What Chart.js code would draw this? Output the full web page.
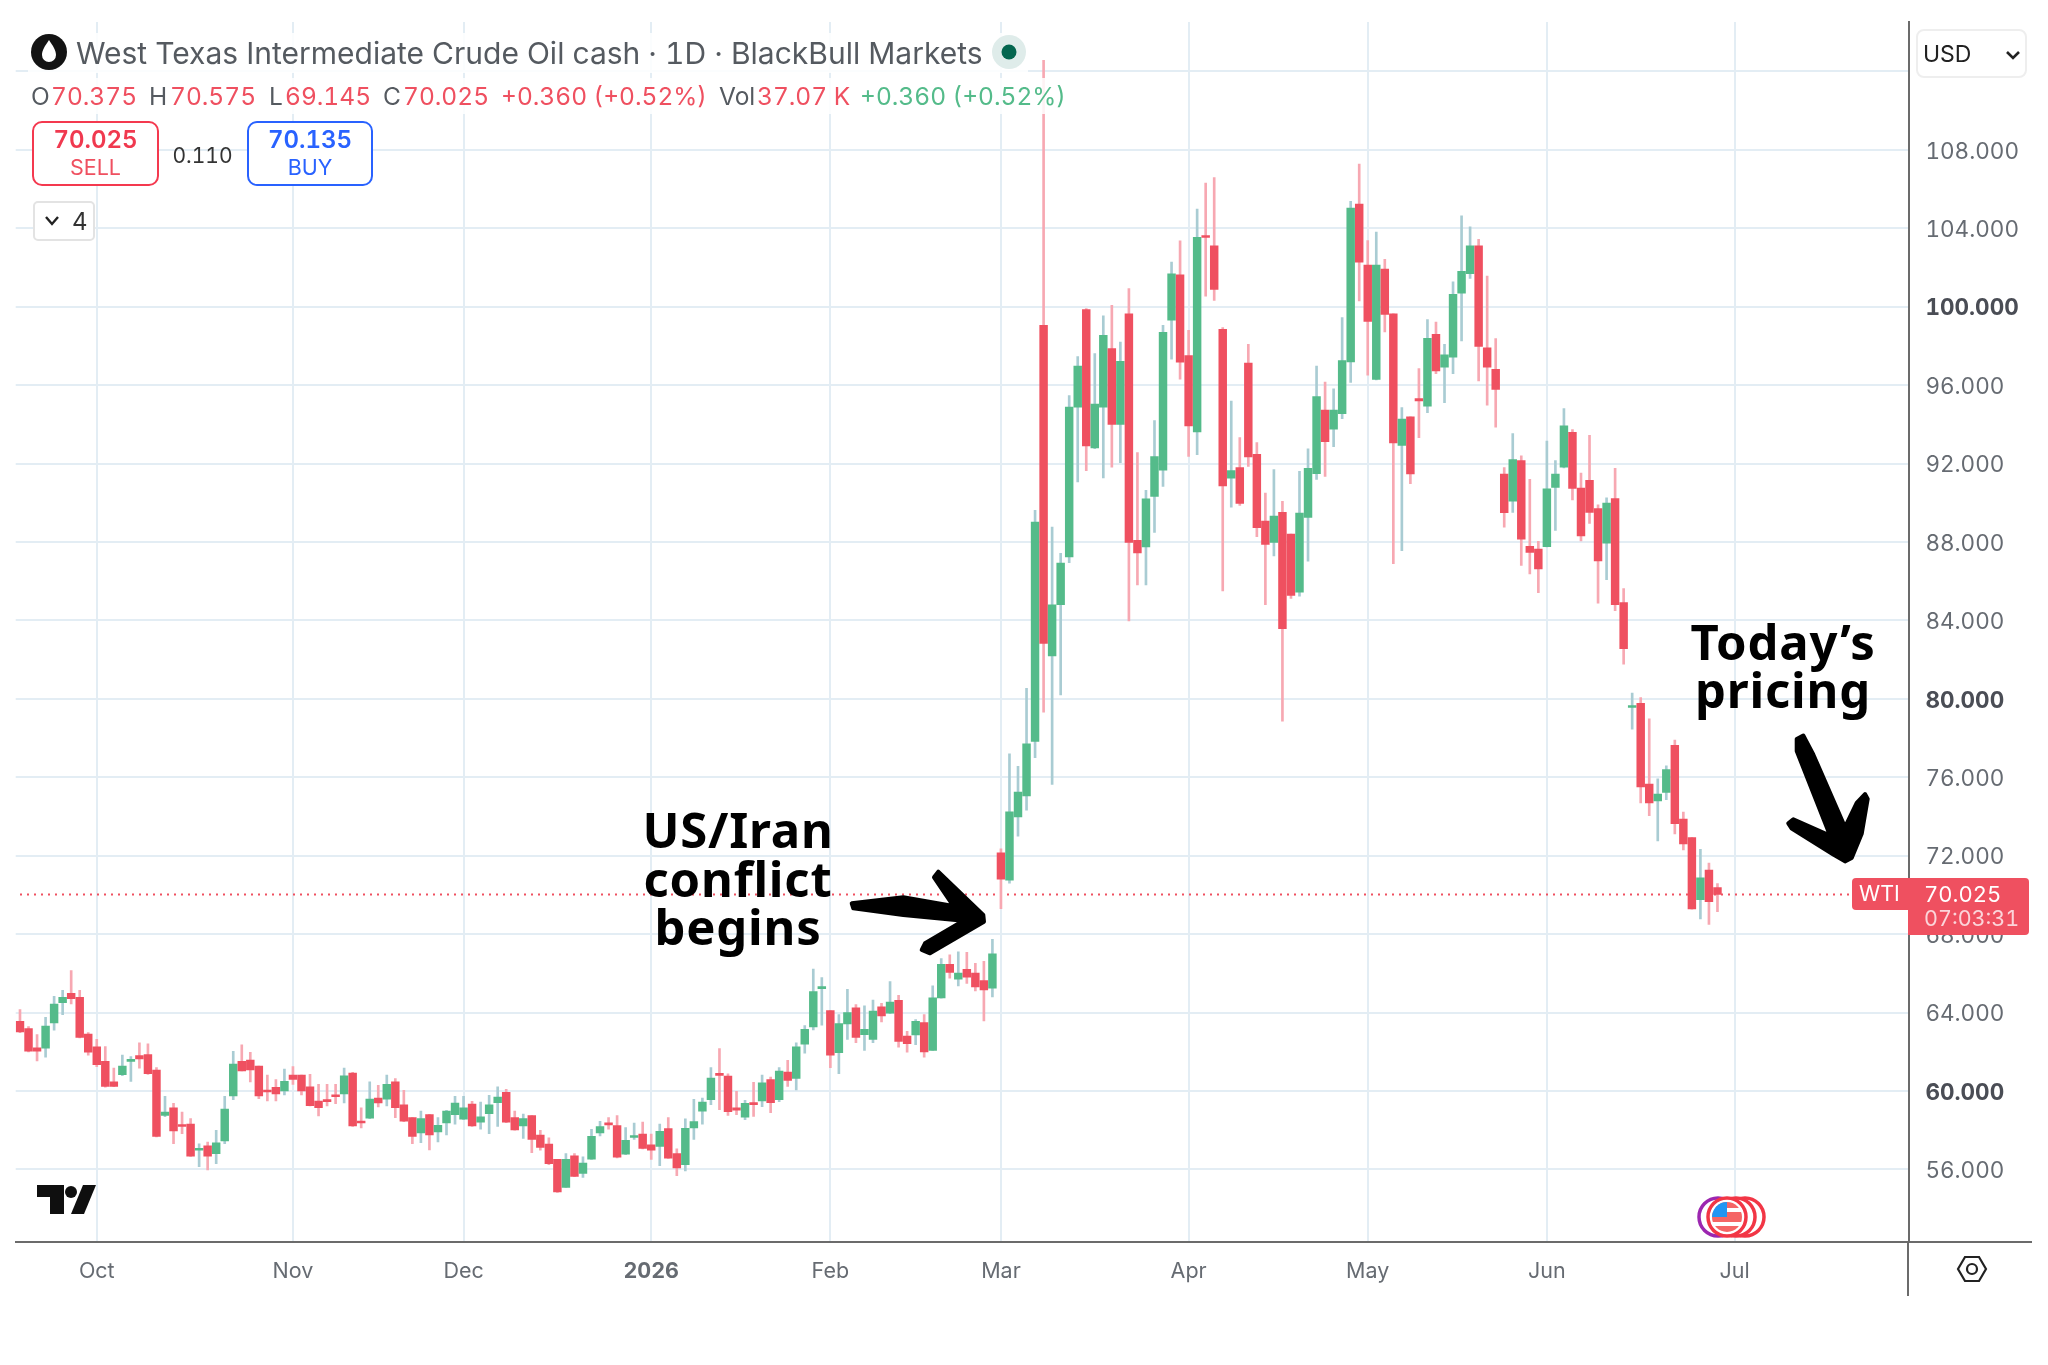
<!DOCTYPE html>
<html><head><meta charset="utf-8">
<script src="https://cdn.jsdelivr.net/npm/chart.js@4"></script>
<style>
html,body{margin:0;padding:0;background:#fff;width:2048px;height:1365px;overflow:hidden;font-family:Inter,sans-serif;font-variant-numeric:tabular-nums}
#c{position:absolute;left:0;top:0}
.t{position:absolute;white-space:nowrap;line-height:1}
.ann{position:absolute;font-family:"Noto Sans",sans-serif;font-weight:700;color:#000;text-align:center;white-space:nowrap;line-height:49px;font-size:49px;letter-spacing:.8px}
.box{position:absolute;box-sizing:border-box}
svg{position:absolute;left:0;top:0}
</style></head><body>
<canvas id="c" width="2048" height="1365"></canvas>
<svg width="2048" height="1365" viewBox="0 0 2048 1365">
  <path d="M851.7 903.3 L903.3 897.3 L953.3 906 L934 877.3 L938.3 871.7 L983.3 915 L984 921.7 L930 953.3 L921.7 950 L925 943.3 L963.3 920.7 L903.3 915 L853.3 908.3 Z" fill="#000" stroke="#000" stroke-width="4" stroke-linejoin="round"/>
  <path d="M1796.7 739 L1803.3 735.5 L1813.3 754.5 L1845 827 L1856.7 802.8 L1865 794 L1867.7 799 L1861.7 833.8 L1851.7 858 L1845 861.4 L1833.3 854.5 L1791.7 828.6 L1788.3 823.4 L1793.3 819.3 L1830 835.5 L1796.7 751 Z" fill="#000" stroke="#000" stroke-width="4" stroke-linejoin="round"/>
  <g fill="#0f0f0f"><path d="M37 1185H64V1214H50V1197H37Z"/><circle cx="71" cy="1192" r="6"/><path d="M83 1185H96L84 1214H71Z"/></g>
  <g fill="#fff" stroke-width="3.5"><circle cx="1718" cy="1217" r="19" stroke="#9c27b0"/><circle cx="1745" cy="1217" r="19" stroke="#f23645"/><circle cx="1736" cy="1217" r="19" stroke="#f23645"/><circle cx="1727" cy="1217" r="19" stroke="#f23645"/></g>
  <g><circle cx="1727" cy="1217" r="15" fill="#f56565"/><path d="M1712 1208H1742V1212H1712ZM1712 1222H1742V1226H1712Z" fill="#fff"/><path d="M1712 1217A15 15 0 0 1 1727 1202V1217Z" fill="#2196f3"/></g>
  <g fill="none" stroke="#222" stroke-width="2.2"><path d="M1965 1257H1979L1986 1269L1979 1281H1965L1958 1269Z"/><circle cx="1972" cy="1269" r="5"/></g>
</svg>
<div class="ann" style="left:638px;top:805px;width:200px">US/Iran</div>
<div class="ann" style="left:638px;top:854px;width:200px">conflict</div>
<div class="ann" style="left:638px;top:902px;width:200px">begins</div>
<div class="ann" style="left:1683px;top:617px;width:200px">Today’s</div>
<div class="ann" style="left:1683px;top:665px;width:200px">pricing</div>

<div class="box" style="left:28px;top:33px;width:1000px;height:40px;background:rgba(255,255,255,.85)"></div>
<div class="box" style="left:28px;top:78px;width:1048px;height:36px;background:rgba(255,255,255,.85)"></div>
<svg width="2048" height="1365" viewBox="0 0 2048 1365">
  <circle cx="49" cy="52" r="18" fill="#131313"/><path d="M49 40C53 46 56 50 56 55A7 7 0 0 1 42 55C42 50 45 46 49 40Z" fill="#fff"/>
  <circle cx="1009" cy="52" r="17" fill="#dfecea"/><circle cx="1009" cy="52" r="7.5" fill="#04664f"/>
</svg>
<div class="t" id="title" style="left:76px;top:38px;font-size:30px;color:#555a60;font-family:Inter,sans-serif">West Texas Intermediate Crude Oil cash · 1D · BlackBull Markets</div>
<div id="row2"></div>
<div class="box" style="left:32px;top:121px;width:127px;height:65px;border:2px solid #f4394f;border-radius:10px;background:#fff"></div>
<div class="t" style="left:32px;width:127px;text-align:center;top:128px;font-size:24px;font-weight:600;color:#f0394f">70.025</div>
<div class="t" style="left:32px;width:127px;text-align:center;top:157px;font-size:21.5px;color:#ef5060">SELL</div>
<div class="t" style="left:160px;width:85px;text-align:center;top:145px;font-size:21px;color:#333">0.110</div>
<div class="box" style="left:247px;top:121px;width:126px;height:65px;border:2px solid #2962ff;border-radius:10px;background:#fff"></div>
<div class="t" style="left:247px;width:126px;text-align:center;top:128px;font-size:24px;font-weight:600;color:#2962ff">70.135</div>
<div class="t" style="left:247px;width:126px;text-align:center;top:157px;font-size:21.5px;color:#2962ff">BUY</div>
<div class="box" style="left:33px;top:201px;width:62px;height:40px;border:2px solid #e3e3e3;border-radius:5px;background:#fff"></div>
<svg width="2048" height="1365" viewBox="0 0 2048 1365"><path d="M46 217L52 224L58 217" fill="none" stroke="#222" stroke-width="2.4"/></svg>
<div class="t" style="left:72px;top:210px;font-size:24px;color:#333">4</div>
<div class="box" style="left:1916px;top:29px;width:111px;height:49px;border:2px solid #eeeeee;border-radius:8px;background:#fff"></div>
<svg width="2048" height="1365" viewBox="0 0 2048 1365"><path d="M2007 52L2013 58L2019 52" fill="none" stroke="#222" stroke-width="2.6"/></svg>
<div class="t" style="left:1923px;top:43px;font-size:23px;color:#222">USD</div>

<div class="box" style="left:1852px;top:878px;width:56px;height:32px;background:#ef5060;border-radius:4px 0 0 4px"></div>
<div class="box" style="left:1908px;top:878px;width:121px;height:57px;background:#ef5060;border-radius:0 4px 4px 0"></div>
<div class="t" style="left:1859px;top:883px;font-size:21.5px;color:#fff">WTI</div>
<div class="t" style="left:1924px;top:883px;font-size:22px;color:#fff">70.025</div>
<div class="t" style="left:1924px;top:908px;font-size:21.5px;color:#fbd5da">07:03:31</div>
<div class="box" style="left:1908px;top:1241px;width:124px;height:2px;background:#6b6b6b"></div>
<div class="box" style="left:1907px;top:1242px;width:2px;height:54px;background:#6b6b6b"></div>

<script>
const dates=["Sep 18","Sep 19","Sep 22","Sep 23","Sep 24","Sep 25","Sep 26","Sep 29","Sep 30",
"Oct 1","Oct 2","Oct 3","Oct 6","Oct 7","Oct 8","Oct 9","Oct 10","Oct 13","Oct 14","Oct 15","Oct 16","Oct 17","Oct 20","Oct 21","Oct 22","Oct 23","Oct 24","Oct 27","Oct 28","Oct 29","Oct 30","Oct 31",
"Nov 3","Nov 4","Nov 5","Nov 6","Nov 7","Nov 10","Nov 11","Nov 12","Nov 13","Nov 14","Nov 17","Nov 18","Nov 19","Nov 20","Nov 21","Nov 24","Nov 25","Nov 26","Nov 27","Nov 28",
"Dec 1","Dec 2","Dec 3","Dec 4","Dec 5","Dec 8","Dec 9","Dec 10","Dec 11","Dec 12","Dec 15","Dec 16","Dec 17","Dec 18","Dec 19","Dec 22","Dec 23","Dec 24","Dec 26","Dec 29","Dec 30","Dec 31",
"Jan 2","Jan 5","Jan 6","Jan 7","Jan 8","Jan 9","Jan 12","Jan 13","Jan 14","Jan 15","Jan 16","Jan 19","Jan 20","Jan 21","Jan 22","Jan 23","Jan 26","Jan 27","Jan 28","Jan 29","Jan 30",
"Feb 2","Feb 3","Feb 4","Feb 5","Feb 6","Feb 9","Feb 10","Feb 11","Feb 12","Feb 13","Feb 16","Feb 17","Feb 18","Feb 19","Feb 20","Feb 23","Feb 24","Feb 25","Feb 26","Feb 27",
"Mar 2","Mar 3","Mar 4","Mar 5","Mar 6","Mar 9","Mar 10","Mar 11","Mar 12","Mar 13","Mar 16","Mar 17","Mar 18","Mar 19","Mar 20","Mar 23","Mar 24","Mar 25","Mar 26","Mar 27","Mar 30","Mar 31",
"Apr 1","Apr 2","Apr 6","Apr 7","Apr 8","Apr 9","Apr 10","Apr 13","Apr 14","Apr 15","Apr 16","Apr 17","Apr 20","Apr 21","Apr 22","Apr 23","Apr 24","Apr 27","Apr 28","Apr 29","Apr 30",
"May 1","May 4","May 5","May 6","May 7","May 8","May 11","May 12","May 13","May 14","May 15","May 18","May 19","May 20","May 21","May 22","May 25","May 26","May 27","May 28","May 29",
"Jun 1","Jun 2","Jun 3","Jun 4","Jun 5","Jun 8","Jun 9","Jun 10","Jun 11","Jun 12","Jun 15","Jun 16","Jun 17","Jun 18","Jun 19","Jun 22","Jun 23","Jun 24","Jun 25","Jun 26","Jun 29","Jun 30",
"Jul 1","Jul 2","Jul 3","Jul 6","Jul 7","Jul 8","Jul 9","Jul 10","Jul 13","Jul 14","Jul 15","Jul 16","Jul 17","Jul 20","Jul 21","Jul 22","Jul 23","Jul 24","Jul 27","Jul 28","Jul 29"];
const opens=[63.56,63.19,62.20,62.19,63.47,64.51,64.98,64.78,62.90,62.25,
61.51,60.47,60.83,61.51,61.81,61.86,61.07,58.75,59.14,58.24,
58.31,56.98,57.20,56.81,57.46,59.75,61.51,61.58,61.27,60.03,
60.19,60.0,60.81,60.81,60.22,59.49,59.54,59.80,59.85,60.92,
58.44,58.61,59.64,59.59,60.47,59.29,58.64,57.86,58.80,57.92,
58.37,58.80,58.56,59.34,58.41,58.85,59.41,59.93,58.64,58.22,
58.75,57.75,57.29,56.51,55.08,56.69,55.80,56.53,57.86,58.34,
58.24,56.78,57.63,57.80,57.25,57.17,58.08,56.81,56.24,58.12,
58.97,59.56,60.86,60.76,59.14,58.66,59.37,59.49,60.58,59.56,
60.97,60.64,62.39,63.27,65.22,64.10,61.95,63.42,64.24,62.88,
62.63,64.29,63.97,64.63,62.80,62.86,63.49,62.07,64.75,66.46,
65.71,66.20,66.02,65.63,65.25,72.15,70.75,73.98,75.05,77.83,
99.05,82.19,84.81,87.24,94.88,99.85,92.80,94.88,97.86,94.0,
99.64,88.08,87.75,90.32,91.66,99.31,101.63,97.51,93.61,103.59,
103.1,98.85,91.25,91.8,97.12,92.47,89.07,87.98,89.51,88.41,
85.44,89.25,91.49,94.73,93.76,94.54,97.19,105.24,102.12,96.29,
101.92,99.64,92.92,94.39,95.32,94.93,98.59,96.92,97.42,100.69,
101.68,103.1,97.9,96.81,91.46,90.08,92.15,87.78,87.64,87.76,
90.78,91.81,93.59,90.75,91.15,89.71,87.94,90.22,84.91,79.56,
79.77,75.65,74.79,75.23,77.63,73.87,72.92,69.76,71.27,70.375];
const highs=[64.15,63.29,62.88,63.76,64.83,65.14,66.14,65.14,62.98,62.64,
62.27,61.17,61.83,61.76,62.46,62.41,61.19,59.73,59.37,58.93,
58.59,57.31,57.39,58.0,59.73,62.02,62.36,61.97,61.27,60.81,
60.58,61.12,61.25,60.81,60.85,60.34,60.34,60.34,61.17,60.95,
59.14,60.47,60.29,60.81,60.63,60.03,58.64,58.98,58.81,58.64,
59.02,59.73,59.73,59.47,59.44,59.78,60.22,60.08,58.98,58.83,
58.75,58.0,57.61,56.51,56.81,56.81,56.64,58.05,58.46,58.64,
58.75,58.14,58.36,58.41,57.81,58.31,58.64,57.05,58.58,59.58,
59.64,61.20,62.17,60.88,59.98,59.53,60.44,60.81,60.71,61.20,
61.56,62.46,63.34,66.22,65.78,64.10,63.90,65.19,64.41,64.34,
64.64,64.47,65.58,64.88,63.05,63.64,63.90,65.37,66.76,66.95,
67.1,67.07,66.51,66.61,67.73,72.35,77.2,76.56,80.54,89.61,
112.56,88.76,87.42,95.47,97.46,99.9,97.61,99.54,100.07,98.19,
100.92,92.56,90.63,94.19,99.05,102.27,103.36,98.8,104.98,106.31,
106.58,98.93,95.19,93.32,98.08,93.07,90.49,91.69,90.07,88.41,
91.61,92.75,96.97,96.15,95.81,99.44,105.37,107.27,103.37,103.8,
102.41,99.64,94.86,94.39,96.85,99.34,99.22,98.08,101.27,104.64,
104.08,103.44,101.56,98.37,91.8,93.53,92.39,91.2,88.03,93.15,
92.15,94.81,93.73,91.51,93.44,89.9,90.25,91.76,85.63,80.3,
80.07,78.98,75.92,76.58,77.9,74.23,72.92,72.32,71.62,70.575];
const lows=[62.97,62.00,61.53,61.73,63.10,63.90,64.44,62.71,61.83,61.24,
60.19,60.22,60.78,60.49,61.17,60.85,57.66,58.69,57.32,57.83,
56.66,56.14,55.98,56.30,57.32,59.56,61.02,60.47,59.61,59.49,
59.49,59.80,60.34,59.80,59.24,58.73,59.24,59.36,59.39,58.20,
58.12,58.59,59.19,59.24,58.64,58.44,57.32,57.36,57.0,57.41,
57.76,58.31,58.54,58.20,58.05,57.83,58.20,58.39,58.0,57.58,
56.86,56.98,56.25,54.83,55.08,55.63,55.59,56.51,57.71,58.05,
56.59,56.75,57.53,57.05,56.51,56.19,56.56,55.68,55.93,57.53,
58.31,59.31,59.05,58.75,58.80,58.54,58.71,59.20,58.90,59.46,
60.24,60.05,61.93,63.12,63.36,61.19,60.88,62.63,62.47,62.07,
62.46,63.53,63.95,62.24,61.98,62.36,61.73,62.07,64.73,65.76,
65.36,65.49,65.10,63.58,64.80,69.3,70.6,73.0,74.32,77.0,
79.32,75.64,80.2,86.95,91.07,91.64,92.76,91.27,91.81,92.05,
83.98,85.81,85.81,88.49,90.83,97.32,96.31,92.37,92.46,100.54,
100.32,85.51,89.78,89.86,91.86,88.27,84.81,87.29,78.86,85.12,
85.24,87.02,91.19,91.34,92.86,94.29,96.14,100.29,96.51,96.27,
98.71,86.9,87.56,90.97,93.32,94.59,96.58,95.1,96.58,98.25,
101.44,96.22,94.98,93.85,88.75,89.51,86.81,86.37,85.42,87.75,
88.59,91.78,90.14,88.05,88.95,84.88,86.08,84.5,81.77,78.46,
74.69,74.04,72.76,74.86,73.11,72.29,69.27,68.78,68.5,69.145];
const closes=[63.02,62.03,62.03,63.31,64.44,64.78,64.71,62.73,61.98,61.34,
60.24,60.24,61.27,61.58,61.64,60.88,57.68,58.93,57.97,58.19,
56.68,57.05,56.68,57.36,59.08,61.37,61.03,61.08,59.75,59.95,
59.85,60.49,60.59,60.0,59.25,59.15,59.46,59.71,60.78,58.22,
58.37,59.59,59.39,60.34,59.15,58.46,57.68,58.59,57.76,58.25,
58.98,59.39,59.14,58.22,58.69,59.29,59.69,58.41,58.02,58.59,
57.53,57.12,56.29,54.85,56.51,55.64,56.32,57.69,58.19,58.27,
56.63,57.49,57.69,57.07,56.98,57.95,56.58,56.08,58.10,58.44,
59.44,60.66,60.80,58.95,59.02,59.37,59.31,60.42,59.41,61.02,
60.54,62.25,63.14,65.07,65.29,61.83,63.44,64.0,62.73,63.15,
64.08,63.83,64.53,62.53,62.42,63.56,62.0,64.75,66.46,66.05,
66.02,65.81,65.31,65.15,67.0,70.8,74.24,75.24,77.71,89.02,
82.83,84.8,86.92,94.88,96.97,92.9,95.03,98.54,94.0,97.22,
87.98,87.44,90.2,92.36,98.69,101.68,97.17,93.92,103.54,103.53,
100.88,90.86,91.64,89.97,92.34,88.73,87.88,89.32,83.58,85.27,
89.47,91.76,95.42,93.12,94.73,97.25,105.03,102.27,99.25,102.12,
99.61,93.05,94.27,91.47,95.2,98.39,96.73,97.54,100.63,101.81,
103.1,97.97,96.92,95.78,89.49,92.2,88.15,87.47,86.63,90.71,
91.46,93.93,90.73,88.31,89.51,87.03,89.99,84.8,82.56,79.6,
75.51,74.69,75.14,76.39,73.64,72.6,69.29,70.87,69.66,70.025];
const tickDates=["Oct 1","Nov 3","Dec 1","Jan 2","Feb 2","Mar 2","Apr 1","May 1","Jun 1","Jul 1"];
const tickLabels=["Oct","Nov","Dec","2026","Feb","Mar","Apr","May","Jun","Jul"];
const priceTicks=[56,60,64,68,72,76,80,84,88,92,96,100,104,108,112];
const boldPrices=[60,80,100];
const hiddenPriceLabels=[112];
const lastPrice=70.025;
const legendRow=[["O",31,"#555a60"],["70.375",51,"#ef5060"],["H",149,"#555a60"],["70.575",170,"#ef5060"],["L",269,"#555a60"],["69.145",285,"#ef5060"],["C",383,"#555a60"],["70.025",403,"#ef5060"],["+0.360 (+0.52%)",501,"#ef5060"],["Vol",719,"#555a60"],["37.07 K",757,"#ef5060"],["+0.360 (+0.52%)",860,"#54bb8a"]];

const row2=document.getElementById('row2');
legendRow.forEach(([s,x,col])=>{const d=document.createElement('div');d.className='t';d.textContent=s;
 d.style.cssText=`left:${x}px;top:84px;font-size:24.5px;color:${col};font-family:Inter,sans-serif`;row2.appendChild(d);});

const RED='#ef5060',GREEN='#54bb8a',RW='#f7a8b2',GW='#a9ccd3';
const up=closes.map((c,i)=>c>=opens[i]);
const chart=new Chart(document.getElementById('c'),{
 data:{labels:dates,datasets:[
  {type:'line',label:'last',data:dates.map(()=>lastPrice),borderColor:RED,borderWidth:2,borderDash:[2,5],pointRadius:0,order:3},
  {type:'bar',label:'wick',data:highs.map((h,i)=>[lows[i],h]),backgroundColor:up.map(u=>u?GW:RW),barThickness:2,grouped:false,order:2},
  {type:'bar',label:'body',data:opens.map((o,i)=>[o,closes[i]]),backgroundColor:up.map(u=>u?GREEN:RED),barThickness:7.8,minBarLength:2,grouped:false,order:1}
 ]},
 options:{responsive:false,animation:false,devicePixelRatio:1,
  layout:{padding:{left:15.73,top:22,right:0,bottom:0}},
  plugins:{legend:{display:false},tooltip:{enabled:false}},
  scales:{
   x:{type:'category',offset:true,
    grid:{offset:false,color:'#e3edf4',lineWidth:2,drawTicks:false},
    border:{display:true,color:'#6b6b6b',width:2},
    afterBuildTicks:s=>{s.ticks=tickDates.map(d=>({value:dates.indexOf(d)}));},
    afterFit:s=>{s.height=123;},
    ticks:{autoSkip:false,maxRotation:0,minRotation:0,padding:17,color:'#666b72',
     font:c=>({family:'Inter',size:21.5,weight:(c.tick&&tickDates.indexOf(dates[c.tick.value])===3)?'700':'400'}),
     callback:function(v){const k=tickDates.indexOf(dates[v]);return k<0?'':tickLabels[k];}}
   },
   y:{type:'linear',position:'right',min:52.30,max:114.52,
    grid:{color:'#e3edf4',lineWidth:2,drawTicks:false},
    border:{display:true,color:'#6b6b6b',width:2},
    afterBuildTicks:s=>{s.ticks=priceTicks.map(v=>({value:v}));},
    afterFit:s=>{s.width=138.6;s.paddingTop=0;s.paddingBottom=0;},
    ticks:{padding:16,autoSkip:false,color:c=>boldPrices.includes(c.tick&&c.tick.value)?'#4a4d55':'#666b72',
     font:c=>({family:'Inter',size:22.5,weight:boldPrices.includes(c.tick&&c.tick.value)?'700':'400'}),
     callback:v=>hiddenPriceLabels.includes(v)?'':Number(v).toFixed(3)}
   }
  }
 }
});
// Nudge the price labels down so their digits sit centred on the gridlines.
const ys=chart.scales.y,origItems=ys.getLabelItems.bind(ys);
ys.getLabelItems=(ca)=>{const items=origItems(ca);items.forEach(i=>{if(!i._nudged){i.options.translation[1]+=2;i._nudged=true;}});return items;};
chart.draw();
</script>
</body></html>
